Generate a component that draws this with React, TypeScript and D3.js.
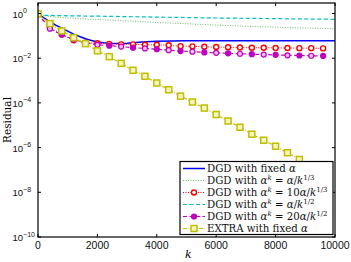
import React from "react";
import * as d3 from "d3";

const kMarks = [0,400,800,1200,1600,2000,2400,2800,3200,3600,4000,4400,4800,5200,5600,6000,6400,6800,7200,7600,8000,8400,8800,9200,9600];

const kFixed = [0,200,400,600,800,1000,1200,1400,1600,1800,2000,2200,2400,2600,2800,3000,3200,3500,4000,5000,6000,7000,8000,9000,10000];
const dgdFixed = [0.955,0.631,0.427,0.302,0.219,0.162,0.120,0.0933,0.0741,0.0617,0.0537,0.0490,0.0468,0.0457,0.0457,0.0468,0.0490,0.0525,0.0575,0.0603,0.0603,0.0603,0.0603,0.0603,0.0603];

const kSlow = [0,200,500,1000,2000,3000,4000,5000,6000,7000,8000,9000,10000];
const dgdCubeRoot = [0.955,0.794,0.708,0.631,0.537,0.468,0.398,0.347,0.302,0.269,0.245,0.224,0.209];

const kSqrt = [0,200,1000,2000,4000,6000,8000,10000];
const dgdSqrt = [0.955,0.83,0.79,0.76,0.69,0.63,0.59,0.55];

const dgd10CubeRoot = [0.955,0.240,0.117,0.0631,0.0490,0.0468,0.0437,0.0417,0.0417,0.0398,0.0398,0.0380,0.0347,0.0339,0.0324,0.0316,0.0309,0.0302,0.0295,0.0295,0.0288,0.0288,0.0282,0.0282,0.0275];

const dgd20Sqrt = [0.955,0.209,0.112,0.0692,0.0490,0.0398,0.0363,0.0331,0.0295,0.0275,0.0251,0.0229,0.0209,0.0195,0.0182,0.0174,0.0166,0.0158,0.0151,0.0145,0.0141,0.0135,0.0132,0.0129,0.0126];

const extra = [0.955,0.355,0.166,0.0832,0.0447,0.0214,0.0117,5.89e-3,2.88e-3,1.55e-3,7.76e-4,3.89e-4,2.00e-4,1.10e-4,5.89e-5,3.02e-5,1.55e-5,8.13e-6,3.98e-6,2.14e-6,1.15e-6,5.89e-7,2.95e-7,1.55e-7,7.94e-8];

const xTicks = [0,2000,4000,6000,8000,10000];
const yTickExps = [0,-2,-4,-6,-8,-10];

const W = 351, H = 262;
const L = 38, R = 335, T = 3, B = 237;

const BLUE = "#0000ff", GREEN = "#5cb85c", RED = "#ff0000", CYAN = "#00bfbf", MAG = "#bf00bf", OLIVE = "#bfbf00";

export default function App() {
  const x = d3.scaleLinear().domain([0, 10000]).range([L, R]);
  const y = d3.scaleLog().domain([1e-10, Math.pow(10, 0.47)]).range([B, T]);
  const line = (ks: number[], vs: number[]) =>
    d3.line<number>().x((_, i) => x(ks[i])).y((v) => y(v))(vs) || "";

  const serif = "'DejaVu Serif', serif";
  const sans = "'Liberation Sans', Arial, sans-serif";

  const legendRows = [
    { color: BLUE, dash: "", w: 1.5, marker: "none", label: [["DGD with fixed ", ""], ["α", "i"]] },
    { color: GREEN, dash: "1,1.5", w: 0.9, marker: "none", label: [["DGD with ", ""], ["α", "i"], ["k", "sup"], [" = ", ""], ["α", "i"], ["/", ""], ["k", "i"], ["1/3", "sup"]] },
    { color: RED, dash: "1,1.5", w: 1, marker: "circle", label: [["DGD with ", ""], ["α", "i"], ["k", "sup"], [" = 10", ""], ["α", "i"], ["/", ""], ["k", "i"], ["1/3", "sup"]] },
    { color: CYAN, dash: "4,2.5", w: 1.2, marker: "none", label: [["DGD with ", ""], ["α", "i"], ["k", "sup"], [" = ", ""], ["α", "i"], ["/", ""], ["k", "i"], ["1/2", "sup"]] },
    { color: MAG, dash: "4,2.5", w: 1.2, marker: "dot", label: [["DGD with ", ""], ["α", "i"], ["k", "sup"], [" = 20", ""], ["α", "i"], ["/", ""], ["k", "i"], ["1/2", "sup"]] },
    { color: OLIVE, dash: "4,1.5,1,1.5", w: 1.2, marker: "square", label: [["EXTRA with fixed ", ""], ["α", "i"]] },
  ];

  const renderLabel = (parts: string[][]) => {
    const out: React.ReactNode[] = [];
    let prevSup = false;
    parts.forEach(([t, kind], i) => {
      if (kind === "sup") {
        out.push(<tspan key={i} dy={-4} fontSize={7} fontStyle={t === "k" ? "italic" : "normal"}>{t}</tspan>);
        prevSup = true;
      } else {
        out.push(<tspan key={i} dy={prevSup ? 4 : 0} fontStyle={kind === "i" ? "italic" : "normal"}>{t}</tspan>);
        prevSup = false;
      }
    });
    return out;
  };

  const marker = (kind: string, cx: number, cy: number, color: string, key: any, idx = 0) => {
    if (kind === "circle") return <circle key={key} cx={cx} cy={cy} r={2.5} fill="white" stroke={color} strokeWidth={1.4} />;
    if (kind === "dot") return <circle key={key} cx={cx} cy={cy} r={2.5} fill={idx % 2 === 0 ? color : "#f0c0f0"} stroke={color} strokeWidth={1.2} />;
    if (kind === "square") return <rect key={key} x={cx - 3} y={cy - 3} width={6} height={6} fill="#f4f4c0" stroke={color} strokeWidth={1.5} />;
    return null;
  };

  const lgX = 180, lgY = 161.5, lgW = 153, lgH = 73, rowH = 12;

  return (
    <svg width={W} height={H} style={{ position: "absolute", left: 0, top: 0, background: "white" }}>
      <rect x={0} y={0} width={W} height={H} fill="white" />
      <defs>
        <clipPath id="plotclip"><rect x={L} y={T} width={R - L} height={B - T} /></clipPath>
      </defs>
      <g clipPath="url(#plotclip)">
        <path d={line(kSqrt, dgdSqrt)} fill="none" stroke={CYAN} strokeWidth={1.2} strokeDasharray="4,2.5" />
        <path d={line(kSlow, dgdCubeRoot)} fill="none" stroke={GREEN} strokeWidth={0.9} strokeDasharray="1,1.5" />
        <path d={line(kFixed, dgdFixed)} fill="none" stroke={BLUE} strokeWidth={1.5} />
        <path d={line(kMarks, dgd10CubeRoot)} fill="none" stroke={RED} strokeWidth={1} strokeDasharray="1,1.5" />
        {kMarks.map((k, i) => marker("circle", x(k), y(dgd10CubeRoot[i]), RED, "r" + i))}
        <path d={line(kMarks, dgd20Sqrt)} fill="none" stroke={MAG} strokeWidth={1.2} strokeDasharray="4,2.5" />
        {kMarks.map((k, i) => marker("dot", x(k), y(dgd20Sqrt[i]), MAG, "m" + i, i))}
        <path d={line(kMarks, extra)} fill="none" stroke={OLIVE} strokeWidth={1.2} strokeDasharray="4,1.5,1,1.5" />
        {kMarks.map((k, i) => marker("square", x(k), y(extra[i]), OLIVE, "e" + i))}
      </g>

      <rect x={L} y={T} width={R - L} height={B - T} fill="none" stroke="black" strokeWidth={1.2} />
      {xTicks.map((t) => (
        <g key={"xt" + t}>
          <line x1={x(t)} x2={x(t)} y1={B} y2={B - 3} stroke="black" strokeWidth={1} />
          <line x1={x(t)} x2={x(t)} y1={T} y2={T + 3} stroke="black" strokeWidth={1} />
          <text x={x(t)} y={249} textAnchor="middle" fontFamily={sans} fontSize={10.5} fill="#111">{t}</text>
        </g>
      ))}
      {yTickExps.map((e) => {
        const yy = y(Math.pow(10, e));
        return (
          <g key={"yt" + e}>
            <line x1={L} x2={L + 3} y1={yy} y2={yy} stroke="black" strokeWidth={1} />
            <line x1={R} x2={R - 3} y1={yy} y2={yy} stroke="black" strokeWidth={1} />
            <text x={12.5} y={yy + 4} fontFamily={sans} fontSize={9.5} fill="#111">
              10<tspan dy={-4.5} fontSize={7}>{e === 0 ? "0" : "\u2212" + (-e)}</tspan>
            </text>
          </g>
        );
      })}

      <text x={185} y={258} fontFamily={serif} fontStyle="italic" fontSize={11}>k</text>
      <text transform={`translate(11,${(T + B) / 2}) rotate(-90)`} textAnchor="middle" fontFamily={serif} fontSize={10.5}>Residual</text>

      <rect x={lgX} y={lgY} width={lgW} height={lgH} fill="white" stroke="black" strokeWidth={1.2} />
      {legendRows.map((r, i) => {
        const cy = lgY + 7 + i * rowH;
        return (
          <g key={"lg" + i}>
            <line x1={183} x2={205} y1={cy} y2={cy} stroke={r.color} strokeWidth={r.w} strokeDasharray={r.dash} />
            {marker(r.marker, 194, cy, r.color, "lm" + i, 0)}
            <text x={207} y={cy + 3.5} fontFamily={serif} fontSize={10.2} fill="#111">{renderLabel(r.label as string[][])}</text>
          </g>
        );
      })}
    </svg>
  );
}
